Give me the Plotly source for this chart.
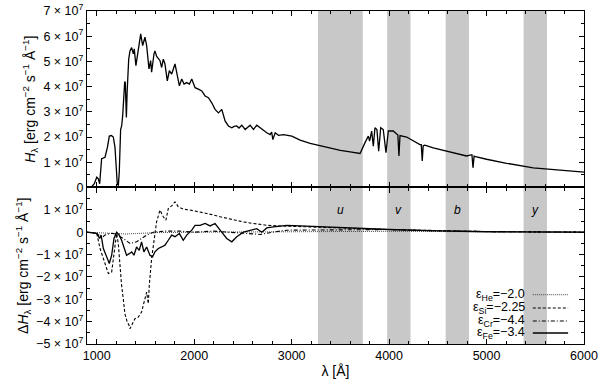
import plotly.graph_objects as go
from plotly.subplots import make_subplots

# ---------------- data ----------------
# top panel: Eddington flux H_lambda (units of 1e7 erg cm^-2 s^-1 A^-1)
lam_top = [940, 975, 1000, 1015, 1030, 1050, 1085, 1110, 1129, 1150, 1170, 1187, 1200, 1211, 1222, 1231,
           1245, 1256, 1266, 1280, 1287, 1293, 1304, 1312, 1328, 1341, 1358, 1375, 1385, 1402, 1426, 1451,
           1471, 1495, 1512, 1536, 1553, 1563, 1587, 1597, 1615, 1632, 1649, 1666, 1683, 1700, 1724, 1745,
           1760, 1769, 1803, 1827, 1848, 1872, 1896, 1923, 1951, 1975, 2009, 2043, 2078, 2112, 2146, 2180,
           2214, 2249, 2283, 2317, 2351, 2386, 2410, 2437, 2460, 2488, 2523, 2574, 2608, 2642, 2694, 2745,
           2779, 2795, 2807, 2831, 2865, 2916, 3002, 3087, 3190, 3292, 3400, 3500, 3600, 3702, 3753, 3787,
           3800, 3821, 3838, 3855, 3875, 3893, 3914, 3940, 3968, 3992, 4043, 4090, 4101, 4112, 4180, 4248,
           4316, 4330, 4340, 4350, 4367, 4453, 4624, 4795, 4850, 4861, 4872, 4887, 5000, 5206, 5479, 5753, 6000]
h_top = [0, 0.15, 0.41, 0.35, 0.15, 1.14, 1.2, 1.6, 2.04, 2.06, 2.0, 1.6, 0.8, 0.12, 0.1, 0.6,
         2.3, 2.45, 2.84, 4.03, 4.2, 4.16, 2.78, 3.8, 5.09, 5.42, 5.55, 5.3, 5.5, 4.83, 5.42, 6.09,
         5.63, 5.96, 5.63, 4.7, 5.03, 4.57, 5.29, 5.42, 5.2, 5.09, 5.03, 4.76, 5.09, 4.9, 4.23, 4.63,
         4.55, 4.5, 4.9, 4.5, 4.03, 4.3, 4.1, 4.16, 4.1, 4.3, 3.96, 3.9, 3.83, 3.63, 3.56, 3.36,
         3.1, 2.96, 3.1, 2.64, 2.44, 2.37, 2.42, 2.44, 2.36, 2.47, 2.3, 2.47, 2.3, 2.47, 2.3, 2.17,
         2.1, 2.2, 1.9, 2.17, 2.07, 2.1, 2.04, 1.88, 1.75, 1.66, 1.55, 1.47, 1.41, 1.35, 1.78, 2.04,
         1.84, 2.24, 1.64, 2.37, 2.3, 1.44, 2.37, 2.3, 1.38, 2.24, 2.24, 2.08, 1.25, 2.06, 2.0, 1.84,
         1.7, 1.7, 1.05, 1.66, 1.68, 1.57, 1.4, 1.25, 1.3, 0.78, 1.24, 1.22, 1.12, 0.96, 0.78, 0.69, 0.61]

# bottom panel: flux differences (units of 1e7)
lam_he = [900, 1000, 1100, 1200, 1300, 1400, 1500, 1600, 2000, 3000, 4000, 5000, 6000]
d_he = [0, -0.02, -0.05, -0.04, -0.08, -0.06, -0.04, -0.02, 0.0, 0.02, 0.04, 0.02, 0.0]

lam_si = [900, 1000, 1034, 1060, 1085, 1119, 1153, 1187, 1204, 1221, 1238, 1255, 1272, 1289, 1313, 1330,
          1341, 1368, 1392, 1426, 1460, 1495, 1512, 1529, 1539, 1563, 1587, 1614, 1649, 1683, 1710, 1734,
          1769, 1803, 1837, 1888, 1957, 2026, 2129, 2266, 2368, 2505, 2608, 2745, 2882, 3087, 3500, 4000,
          4500, 5000, 6000]
d_si = [0, -0.05, -0.73, -1.1, -1.48, -1.85, -1.78, -0.73, -0.06, -0.5, -1.7, -2.38, -2.97, -3.65, -4.02, -4.15,
        -4.32, -4.1, -3.87, -3.8, -3.57, -2.97, -2.68, -3.2, -2.38, -1.18, -0.28, 0.46, 0.99, 0.69, 0.54, 1.06,
        1.18, 1.36, 1.14, 1.03, 0.99, 0.94, 0.84, 0.69, 0.58, 0.46, 0.39, 0.31, 0.28, 0.24, 0.19, 0.12,
        0.06, 0.03, 0.0]

lam_cr = [900, 1000, 1058, 1080, 1120, 1160, 1200, 1272, 1341, 1409, 1460, 1512, 1580, 1700, 1850, 2000,
          2200, 2400, 2560, 2680, 2800, 2950, 3300, 3700, 4000, 4300, 5000, 6000]
d_cr = [0, -0.06, -0.25, -0.13, -0.08, -0.05, -0.1, -0.28, -0.5, -0.43, -0.28, -0.13, 0, 0.05, 0.05, 0.0,
        0.05, 0.0, -0.06, -0.1, 0.0, 0.09, 0.1, 0.12, 0.12, 0.08, 0.03, 0.0]

lam_fe = [900, 1000, 1030, 1045, 1068, 1102, 1129, 1153, 1177, 1204, 1231, 1255, 1279, 1306, 1334, 1358,
          1382, 1409, 1436, 1460, 1484, 1512, 1546, 1573, 1597, 1632, 1666, 1700, 1734, 1769, 1803, 1848,
          1888, 1923, 1975, 2009, 2060, 2112, 2163, 2214, 2266, 2334, 2386, 2437, 2505, 2574, 2642, 2694,
          2745, 2814, 2950, 3087, 3292, 3600, 4000, 4500, 5000, 6000]
d_fe = [0, -0.05, -0.28, -0.13, -0.73, -1.1, -1.4, -1.03, -0.28, 0, -0.13, -0.36, -0.66, -1.03, -0.96, -0.88,
        -1.03, -0.66, -0.81, -0.43, -0.88, -0.66, -1.03, -1.1, -0.88, -0.73, -0.66, -0.58, -0.36, -0.13, -0.2, -0.06,
        -0.36, -0.13, 0.09, 0.31, 0.31, 0.39, 0.28, 0.39, 0.09, -0.28, -0.43, -0.2, 0, 0.09, 0.16, 0,
        0.19, 0.24, 0.31, 0.28, 0.24, 0.18, 0.12, 0.06, 0.02, 0.0]

# Stroemgren filter bands
band_lo = [3270, 3980, 4580, 5380]
band_hi = [3730, 4220, 4820, 5620]
band_names = ["u", "v", "b", "y"]

legend_labels = ["ε<sub>He</sub>=−2.0", "ε<sub>Si</sub>=−2.25", "ε<sub>Cr</sub>=−4.4", "ε<sub>Fe</sub>=−3.4"]

top_ticks = [0, 1, 2, 3, 4, 5, 6, 7]
bot_ticks = [-5, -4, -3, -2, -1, 0, 1]

SCALE = 1e7


def tick_text(v):
    if v == 0:
        return "0"
    s = "−" if v < 0 else ""
    return f"{s}{abs(v)} × 10<sup>7</sup>"


# ---------------- figure ----------------
fig = make_subplots(rows=2, cols=1, shared_xaxes=True, vertical_spacing=0,
                    row_heights=[0.53, 0.47])

fig.add_trace(go.Scatter(x=lam_top, y=[v * SCALE for v in h_top], mode="lines",
                         line=dict(color="black", width=1.3), showlegend=False), row=1, col=1)

series = [
    (lam_he, d_he, dict(color="#444", width=1, dash="1px,1px")),
    (lam_si, d_si, dict(color="black", width=1.1, dash="3px,2px")),
    (lam_cr, d_cr, dict(color="black", width=1.1, dash="4px,2px,1px,2px")),
    (lam_fe, d_fe, dict(color="black", width=1.3)),
]
for lx, ly, ln in series:
    fig.add_trace(go.Scatter(x=lx, y=[v * SCALE for v in ly], mode="lines", line=ln,
                             showlegend=False), row=2, col=1)

# shaded filter bands spanning both panels
for lo, hi, nm in zip(band_lo, band_hi, band_names):
    fig.add_shape(type="rect", xref="x2", yref="paper", x0=lo, x1=hi, y0=0, y1=1,
                  fillcolor="#c8c8c8", line=dict(width=0), layer="below")
    fig.add_annotation(x=(lo + hi) / 2, y=1.0e7, xref="x2", yref="y2", text=f"<i>{nm}</i>",
                       showarrow=False, font=dict(size=12, color="black"))

# legend (gnuplot style: text, then sample)
leg_y = [0.148, 0.108, 0.069, 0.033]
for lab, yy, (_, _, ln) in zip(legend_labels, leg_y, series):
    fig.add_annotation(x=0.885, y=yy, xref="paper", yref="paper", text=lab, showarrow=False,
                       xanchor="right", yanchor="middle", font=dict(size=12.5, color="black"))
    fig.add_shape(type="line", xref="paper", yref="paper", x0=0.897, x1=0.968, y0=yy, y1=yy,
                  line=ln)

axis_common = dict(showline=True, linecolor="black", linewidth=1.2, mirror="allticks",
                   ticks="inside", ticklen=5, tickcolor="black", showgrid=False, zeroline=False,
                   automargin=False, ticklabeloverflow="allow", tickfont=dict(size=12.5))

fig.update_xaxes(range=[900, 6000], dtick=1000, tick0=0,
                 minor=dict(dtick=200, tick0=0, ticks="inside", ticklen=3, tickcolor="black"),
                 **axis_common)
fig.update_xaxes(title=dict(text="λ [Å]", standoff=4), row=2, col=1)

fig.update_yaxes(range=[0, 7e7], tickmode="array", tickvals=[t * SCALE for t in top_ticks],
                 ticktext=[tick_text(t) for t in top_ticks],
                 minor=dict(dtick=5e6, tick0=0, ticks="inside", ticklen=3, tickcolor="black"),
                 title=dict(text="<i>H</i><sub>λ</sub> [erg cm<sup>−2</sup> s<sup>−1</sup> Å<sup>−1</sup>]",
                            standoff=4),
                 row=1, col=1, **axis_common)
fig.update_yaxes(range=[-5e7, 2e7], tickmode="array", tickvals=[t * SCALE for t in bot_ticks],
                 ticktext=[tick_text(t) for t in bot_ticks],
                 minor=dict(dtick=5e6, tick0=0, ticks="inside", ticklen=3, tickcolor="black"),
                 title=dict(text="Δ<i>H</i><sub>λ</sub> [erg cm<sup>−2</sup> s<sup>−1</sup> Å<sup>−1</sup>]",
                            standoff=4),
                 row=2, col=1, **axis_common)

fig.update_layout(width=600, height=384, margin=dict(l=87, r=16, t=11, b=40),
                  paper_bgcolor="white", plot_bgcolor="white",
                  font=dict(family="Liberation Sans, Arial, sans-serif", size=12, color="black"),
                  showlegend=False)

# remove the page's default body margin so the figure sits at the window's origin
fig.write_html("out.html", config={"displayModeBar": False},
               post_script="document.body.style.margin='0';")
